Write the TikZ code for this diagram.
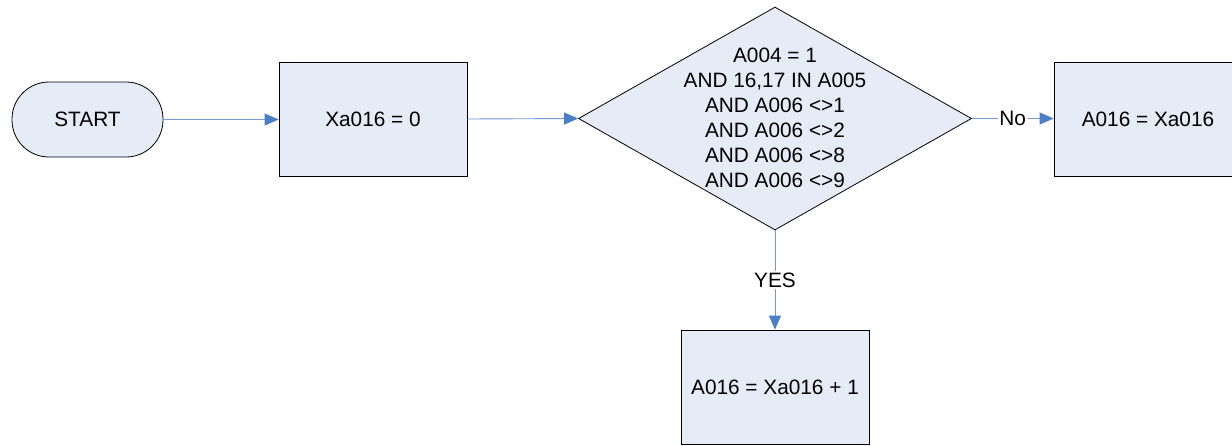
\documentclass[tikz,border=0pt]{standalone}
\usepackage{fontspec}
\setmainfont{Liberation Sans}
\usetikzlibrary{shapes.geometric,arrows.meta}
\definecolor{boxfill}{HTML}{E6ECF7}
\definecolor{linecol}{HTML}{7398D2}
\definecolor{tipcol}{HTML}{4A7EC7}
\begin{document}
\begin{tikzpicture}[x=1pt,y=-1pt,
  every node/.style={font=\fontsize{20.8}{25}\selectfont, inner sep=0pt},
  procbox/.style={draw=black, line width=0.8pt, fill=boxfill, minimum width=188pt, minimum height=114pt},
  startbox/.style={draw=black, line width=0.8pt, fill=boxfill, rounded corners=37pt, minimum width=151pt, minimum height=75pt},
  decbox/.style={draw=black, line width=0.8pt, fill=boxfill, diamond, minimum width=393pt, minimum height=223pt, shape aspect=1.762},
  conn/.style={draw=linecol, line width=0.9pt, -{Triangle[length=14pt,width=12pt,color=tipcol]}},
  lbl/.style={fill=white, inner sep=1.5pt}
]
\useasboundingbox (0,0) rectangle (1232,445);
\clip (0,0) rectangle (1232,445);
\node[startbox] (start) at (87.5,119.5) {START};
\node[procbox] (init) at (373,119) {Xa016 = 0};
\node[decbox] (dec) at (775,118.5) {};
\node[align=center] (dectext) at (775,118) {A004 = 1\\AND 16,17 IN A005\\AND A006 <>1\\AND A006 <>2\\AND A006 <>8\\AND A006 <>9};
\node[procbox] (no) at (1148,119) {A016 = Xa016};
\node[procbox] (yes) at (775,387) {A016 = Xa016 + 1};
\draw[conn] (start.east) -- (init.west |- start.east);
\draw[conn] (init.east) -- (dec.west);
\draw[conn] (dec.east) -- node[lbl] {No} (no.west |- dec.east);
\draw[conn] (dec.south) -- node[lbl, pos=0.5] {YES} (yes.north);
\end{tikzpicture}
\end{document}
